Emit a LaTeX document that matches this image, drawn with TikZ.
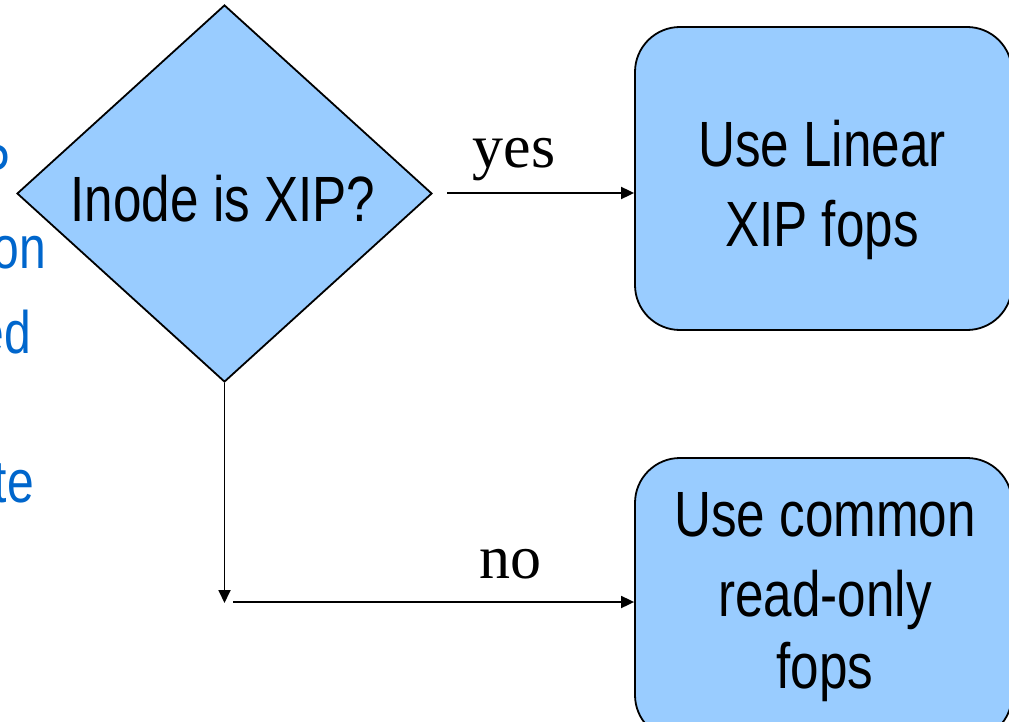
\documentclass[tikz,border=0pt]{standalone}
\usepackage{fontspec}
\setmainfont{Liberation Sans}
\newfontfamily\narrowsans[FakeStretch=0.8]{Liberation Sans}
\newfontfamily\serifface{Liberation Serif}
\usetikzlibrary{shapes.geometric,arrows.meta}
\definecolor{boxblue}{HTML}{99CCFF}
\definecolor{txtblue}{HTML}{0066CC}
\begin{document}
\begin{tikzpicture}[x=1pt,y=-1pt,
  shapeline/.style={draw=black,line width=1.8pt,fill=boxblue},
  roundbox/.style={shapeline,rounded corners=45pt,minimum width=377pt,inner sep=0},
  bigtxt/.style={font=\narrowsans\fontsize{64}{80}\selectfont,align=center,inner sep=0,anchor=base},
  sidetxt/.style={font=\narrowsans\fontsize{60}{72}\selectfont,text=txtblue,inner sep=0,anchor=base east},
  lbl/.style={font=\serifface\fontsize{62}{70}\selectfont,inner sep=0,anchor=base},
  conn/.style={line width=1.8pt,-{Triangle[length=13pt,width=12pt]}}
]
\useasboundingbox (0,0) rectangle (1009,722);
\clip (0,0) rectangle (1009,722);

% partly cut-off text at the left edge
\node[sidetxt] (s1) at (11,187) {P};
\node[sidetxt] (s2) at (46,268) {on};
\node[sidetxt] (s3) at (31,353) {ed};
\node[sidetxt] (s4) at (34,502) {te};

% decision
\node[diamond,shapeline,minimum width=415pt,minimum height=377pt,inner sep=0] (dec) at (224.5,193.5) {};
\node[bigtxt] (dect) at (223,222) {Inode is XIP?};

% boxes
\node[roundbox,minimum height=303pt] (b1) at (823.5,178.5) {};
\node[bigtxt] (b1t) at (822,247) {Use Linear\\XIP fops};
\node[roundbox,minimum height=282pt] (b2) at (823.5,599) {};
\node[bigtxt] (b2t) at (825,688) {Use common\\read-only\\[-8pt]fops};

% connectors
\coordinate (ys) at (447,193);
\draw[conn] (ys) -- (ys -| b1.west);
\node[lbl] (yes) at (514,168) {yes};

\coordinate (jn) at (227,603);
\draw[conn] (dec.south) -- (dec.south |- jn);
\coordinate (js) at (233,602);
\draw[conn] (js) -- (js -| b2.west);
\node[lbl] (no) at (510,578) {no};
\end{tikzpicture}
\end{document}
